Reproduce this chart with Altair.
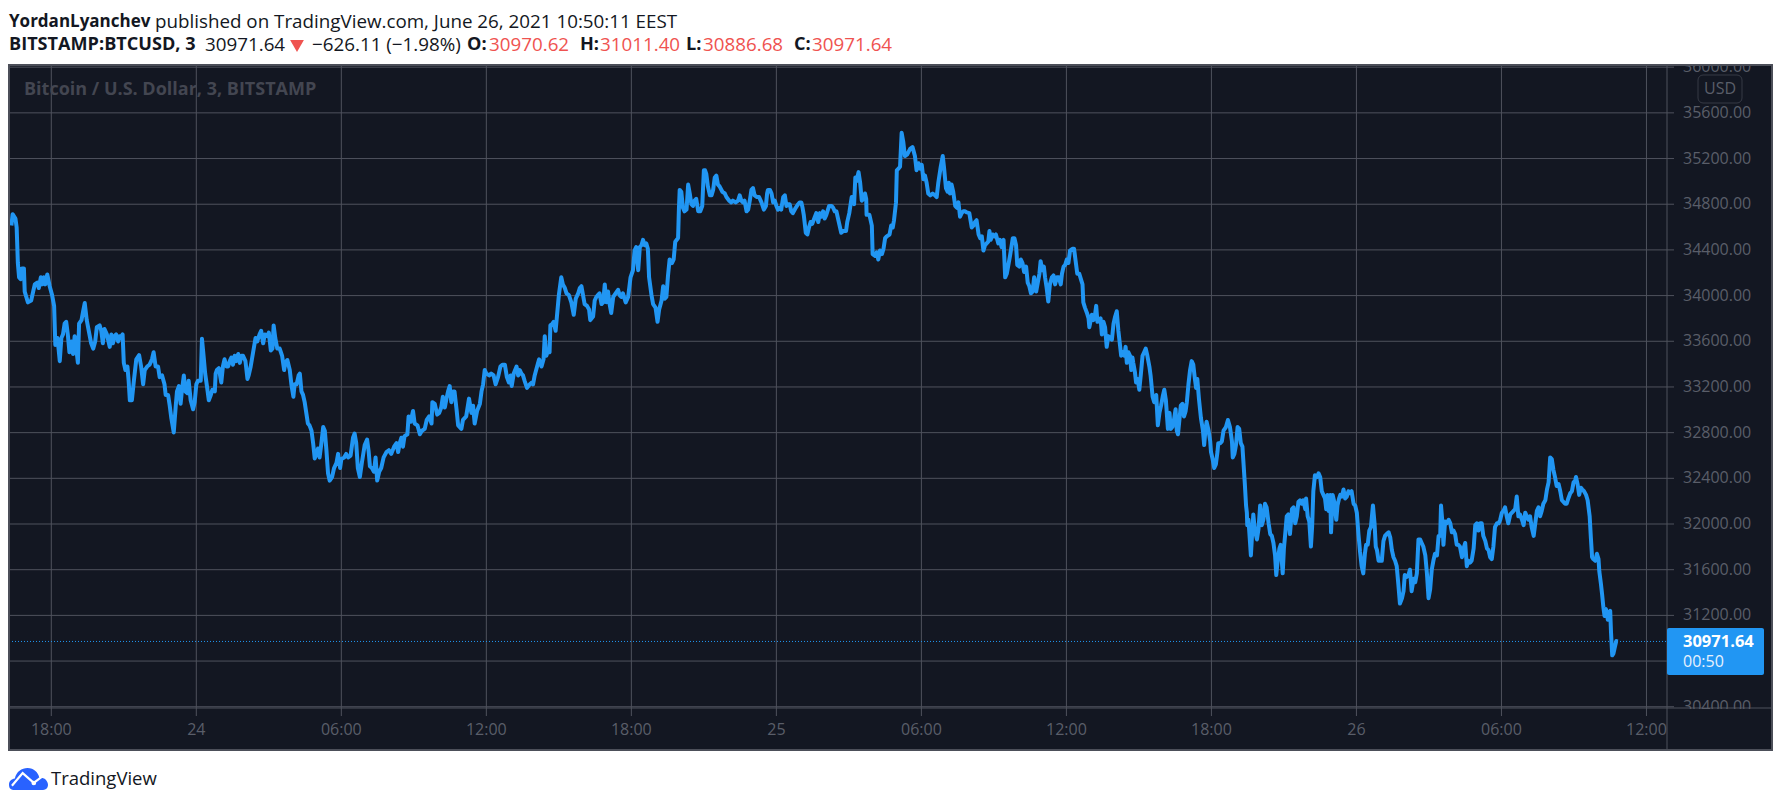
import altair as alt
import pandas as pd

# ---------------- data ----------------
# time = minutes since 2021-06-23 16:00 (chart time zone), price = BTCUSD 3-min close
T_A = [21,24,31,34,37,40,44,47,52,54,62,70,79,85,89,94,97,102,105,110,
       116,122,127,130,135,138,141,145,149,153,157,161,165,170,174,178,182,186,189,195,
       199,203,208,213,219,224,229,233,240,244,248,252,258,265,269,273,277,281,286,290,
       294,297,300,304,309,312,315,320,325,331,338,343,348,352,358,364,370,374,379,385,
       389,395,401,404,410,414,418,424,429,432,437,441,444,449,453,458,461,466,472,476,
       480,484,491,494,498,502,507,511,516,520,526,528,531,536,542,546,550,555,559,563,
       567,571,575,579,584,588,592,596,602,607,610,615,621,627,631,637,641,646,650,656,
       660,665,669,672,676,681,687,693,698,701,706,712,716,721,724,729,734,737,741,745,
       749,753,757,761,766,770,774,778,782,786,790,795,799,803,807,811,817,822,828,832,
       837,840,847,852,857,863,869,873,877,881,886,891,898,904,908,911,916,921,925,929,
       934,939,945,952,958,964,971,977,981,985,989,993,997,1004,1007,1012,1018,1022,1029,1035,
       1040,1047,1052]
P_A = [34613,34713,34675,34597,34285,34160,34144,34238,34238,34035,
       33941,33957,34098,34113,34066,34160,34098,34160,34098,34185,
       34082,34004,33910,33567,33629,33536,33426,33629,33660,33754,
       33770,33660,33504,33598,33489,33645,33536,33411,33754,33785,
       33863,33935,33785,33692,33582,33536,33598,33723,33739,33692,
       33582,33707,33660,33551,33660,33582,33645,33660,33598,33645,
       33645,33660,33411,33348,33379,33254,33083,33083,33254,33442,
       33479,33379,33223,33348,33379,33395,33442,33504,33379,33379,
       33286,33301,33223,33130,33130,33036,32927,32802,33036,33161,
       33208,33052,33161,33301,33161,33145,33254,33083,33005,33067,
       33223,33254,33254,33623,33473,33317,33192,33083,33130,33176,
       33161,33317,33348,33364,33239,33379,33442,33379,33379,33426,
       33457,33395,33473,33426,33489,33411,33473,33473,33426,33270,
       33301,33379,33504,33629,33598,33660,33692,33582,33660,33645,
       33676,33520,33536,33739,33629,33536,33536,33473,33348,33411,
       33436,33348,33223,33114,33223,33223,33301,33317,33161,33130,
       33067,32973,32880,32864,32817,32708,32574,32614,32661,32583,
       32692,32849,32817,32646,32443,32380,32411,32490,32536,32614,
       32490,32568,32583,32614,32583,32599,32755,32792,32708,32490,
       32411,32536,32692,32739,32630,32505,32490,32458,32583,32380,
       32458,32490,32583,32630,32646,32614,32677,32708,32630,32708,
       32755,32677,32770,32786,32942,32895,32989,32880,32864,32786,
       32817,32833,32911]

T_B = [1058,1064,1066,1072,1078,1083,1088,1092,1097,1101,
       1105,1109,1113,1117,1121,1126,1130,1138,1142,1150,
       1157,1163,1167,1171,1177,1184,1188,1192,1196,1200,
       1207,1212,1218,1223,1229,1235,1240,1246,1251,1256,
       1260,1263,1268,1275,1279,1283,1287,1291,1295,1301,
       1308,1313,1316,1320,1326,1331,1337,1342,1345,1349,
       1353,1357,1359,1364,1367,1372,1376,1380,1386,1390,
       1395,1399,1405,1411,1417,1422,1428,1432,1436,1440,
       1444,1450,1455,1458,1465,1469,1473,1477,1481,1486,
       1490,1494,1498,1502,1506,1510,1515,1521,1527,1531,
       1535,1539,1546,1552,1558,1564,1568,1572,1577,1581,
       1585,1589,1593,1597,1601,1604,1610,1614,1620,1625,
       1629,1635,1639,1643,1647,1651,1655,1661,1665,1669,
       1676,1678,1680,1684,1688,1692,1697,1701,1705,1709,
       1713,1717,1721,1726,1731,1736,1740,1743,1746,1750,
       1755,1759,1763,1767,1771,1775,1779,1786,1792,1796,
       1803,1808,1812,1819,1825,1829,1833,1837,1841,1846,
       1850,1854,1858,1862,1866,1872,1877,1883,1889,1894,
       1897,1899,1904,1908,1912,1916,1920,1924,1928,1932,
       1937,1941,1945,1949,1953,1957,1961,1968,1974,1978,
       1982,1985,1988,1993,1997,2001,2005,2009,2014,2019,
       2024,2028,2032,2036,2040,2044,2051,2057,2061,2065,
       2069,2073]
P_B = [32942,32880,33067,33052,32958,32973,33020,33114,33020,33098,
       33161,33208,33067,33161,33161,33005,32864,32833,32911,32942,
       33098,32973,33036,32880,32989,33052,33161,33223,33348,33317,
       33301,33317,33301,33223,33286,33379,33395,33395,33286,33239,
       33301,33208,33317,33379,33301,33348,33317,33301,33254,33192,
       33223,33239,33223,33301,33379,33442,33379,33442,33645,33473,
       33520,33504,33739,33754,33770,33692,33848,34004,34160,34098,
       34066,34020,34004,33941,33832,33973,34020,34066,34082,34004,
       33926,33910,33879,33785,33817,33957,33988,34004,34020,33926,
       33941,34098,33941,34035,33926,33848,33988,34020,34051,34004,
       33988,34020,33941,33988,34160,34222,34394,34425,34222,34425,
       34441,34488,34441,34457,34410,34160,34004,33926,33895,33770,
       33879,33957,34082,33973,33988,34176,34316,34285,34316,34472,
       34504,34753,34925,34909,34769,34738,34753,34972,34894,34800,
       34785,34831,34847,34738,34738,34785,35097,35097,35066,34956,
       34878,34878,34925,35034,35050,34972,34956,34909,34894,34863,
       34831,34816,34831,34816,34831,34878,34831,34816,34831,34738,
       34753,34831,34925,34941,34878,34863,34863,34816,34753,34785,
       34894,34925,34925,34894,34816,34831,34785,34753,34769,34753,
       34863,34878,34785,34800,34800,34738,34722,34769,34800,34816,
       34816,34769,34707,34550,34535,34597,34644,34628,34675,34722,
       34644,34722,34691,34738,34675,34707,34785,34785,34769,34738,
       34738,34675]

T_C = [2081,2086,2093,2096,2101,2107,2113,2116,2119,2124,
       2128,2132,2136,2140,2143,2144,2151,2157,2159,2165,
       2169,2173,2177,2182,2186,2190,2194,2201,2205,2209,
       2212,2217,2219,2223,2227,2231,2235,2239,2245,2252,
       2258,2264,2268,2273,2277,2281,2285,2289,2293,2297,
       2302,2308,2314,2318,2322,2328,2333,2336,2341,2345,
       2348,2351,2355,2359,2364,2368,2372,2376,2380,2384,
       2388,2393,2399,2405,2409,2413,2417,2422,2426,2430,
       2434,2438,2442,2446,2449,2452,2457,2461,2465,2471,
       2475,2479,2484,2488,2492,2496,2500,2507,2511,2515,
       2518,2523,2527,2531,2535,2540,2544,2548,2552,2556,
       2560,2565,2569,2573,2576,2580,2584,2587,2591,2595,
       2599,2604,2608,2612,2616,2621,2626,2629,2633,2637,
       2641,2645,2649,2655,2659,2663,2667,2672,2676,2680,
       2682,2686,2691,2695,2697,2703,2707,2711,2714,2717,
       2722,2725,2728,2732,2736,2740,2744,2748,2753,2757,
       2761,2765,2769,2773,2776,2780,2784,2787,2790,2794,
       2798,2801,2804,2806,2810,2813,2817,2821,2825,2829,
       2833,2837,2841,2846,2849,2854,2858,2863,2867,2871,
       2875,2879,2883,2887,2892,2896,2899,2903,2907,2911,
       2914,2917,2921,2924,2928,2932,2936,2939,2943,2947,
       2951,2955,2959,2962,2965,2969,2974,2979,2982,2985,
       2988,2993,2997,2999,3003,3007,3011,3015,3017,3022,
       3026,3030,3036,3041,3046,3051,3053,3057,3061,3065,
       3069,3073,3077,3079,3083,3086,3088,3089,3092]
P_C = [34550,34566,34566,34644,34722,34863,34800,35034,35003,35081,
       34988,34831,34847,34894,34847,34707,34707,34613,34363,34347,
       34379,34316,34394,34363,34410,34503,34519,34535,34613,34597,
       34660,34816,35097,35112,35128,35425,35347,35222,35237,35284,
       35300,35222,35097,35159,35112,35144,35019,35050,34988,34894,
       34878,34894,34878,34863,34988,35128,35222,35128,34941,34909,
       34988,34894,34972,34909,34785,34769,34816,34691,34722,34738,
       34738,34728,34722,34597,34613,34644,34660,34535,34503,34519,
       34394,34441,34457,34472,34566,34488,34535,34519,34535,34457,
       34488,34425,34488,34160,34191,34269,34347,34503,34503,34441,
       34269,34254,34316,34285,34207,34254,34113,34082,34020,34035,
       34160,34035,34113,34191,34301,34222,34254,34160,34066,33948,
       34098,34160,34176,34098,34160,34160,34098,34191,34254,34269,
       34316,34285,34394,34410,34410,34301,34191,34191,34144,34098,
       33941,33895,33848,33801,33723,33832,33785,33832,33910,33770,
       33785,33801,33660,33770,33723,33551,33645,33629,33614,33754,
       33817,33863,33692,33567,33473,33504,33473,33551,33411,33504,
       33473,33348,33457,33411,33333,33239,33270,33176,33317,33473,
       33504,33536,33473,33379,33301,33114,33067,33130,32864,32973,
       33036,33114,33176,33083,32833,32973,32833,32849,32911,33005,
       32817,32786,32927,33036,33052,32942,32989,33067,33223,33348,
       33426,33395,33270,33192,33270,33098,32927,32817,32692,32817,
       32895,32817,32724,32630,32568,32490,32521,32630,32708,32708,
       32724,32817,32849,32911,32849,32724,32583,32614,32692,32849,
       32833,32708,32677,32568,32349,32162,32099,31990,32037]

T_D = [3098,3101,3104,3108,3113,3117,3121,3125,3129,3133,
       3137,3142,3146,3150,3154,3158,3161,3165,3169,3172,
       3175,3177,3180,3184,3187,3191,3195,3200,3204,3208,
       3212,3216,3220,3224,3228,3233,3235,3239,3243,3247,
       3250,3253,3257,3262,3266,3270,3274,3278,3282,3285,
       3288,3291,3295,3297,3301,3305,3310,3313,3317,3320,
       3324,3328,3332,3336,3340,3344,3348,3353,3357,3361,
       3365,3369,3373,3377,3381,3384,3388,3392,3396,3401,
       3405,3408,3411,3415,3419,3423,3427,3431,3435,3440,
       3444,3448,3452,3456,3460,3464,3468,3473,3477,3480,
       3485,3489,3493,3497,3502,3506,3510,3514,3518,3522,
       3526,3531,3535,3539,3543,3547,3551,3555,3560,3564,
       3568,3570,3574,3576,3580,3584,3589,3593,3597,3601,
       3605,3609,3613,3617,3622,3626,3630,3634,3638,3642,
       3646,3651,3655,3659,3663,3667,3671,3675,3680,3684,
       3688,3692,3696,3700,3704,3709,3713,3717,3721,3725,
       3729,3733,3737,3742,3746,3750,3754,3758,3762,3766,
       3771,3775,3779,3783,3787,3791,3795,3800,3804,3808,
       3812,3816,3820,3824,3829,3833,3837,3841,3845,3849,
       3853,3857,3862,3866,3870,3874,3878,3882,3886,3891,
       3895,3899,3903,3905,3909,3913,3917,3921,3925,3930,
       3934,3939,3942,3945,3948,3953,3957,3961,3963,3967,
       3970,3973,3976,3979,3982,3984,3987,3990,3992,3995,
       3998,4001,4005,4009]
P_D = [31725,31912,32084,31943,31865,31959,32162,31990,32037,32177,
       32146,32006,31912,31896,31834,31725,31553,31693,31787,31818,
       31662,31568,31787,31943,32068,32084,31912,32130,32146,32006,
       32068,32193,32208,32177,32208,32130,32224,32068,32021,31803,
       31974,32287,32427,32411,32443,32411,32287,32255,32224,32130,
       32255,32115,32255,31927,32255,32193,32037,32162,32224,32255,
       32240,32302,32224,32240,32287,32271,32287,32177,32162,32099,
       31912,31756,31631,31568,31740,31818,31818,31943,31974,32162,
       32006,31803,31771,31678,31678,31678,31850,31896,31912,31927,
       31881,31771,31709,31678,31631,31475,31303,31350,31412,31553,
       31537,31553,31600,31412,31521,31490,31568,31865,31865,31834,
       31803,31725,31568,31350,31428,31600,31678,31740,31725,31896,
       31896,32162,31990,31818,32021,32006,32037,32006,31927,31943,
       31912,31818,31818,31803,31709,31787,31834,31631,31678,31662,
       31678,31787,31990,32006,31943,32006,32006,31896,31850,31787,
       31771,31709,31693,31803,31974,32006,32006,32037,32099,32115,
       32146,32068,32006,32084,32099,32115,32130,32240,32068,32084,
       32037,31990,32099,32068,32037,32068,31974,31896,32006,32115,
       32146,32068,32115,32177,32208,32302,32365,32583,32568,32474,
       32411,32333,32349,32287,32208,32193,32177,32177,32224,32271,
       32287,32365,32380,32411,32349,32255,32318,32302,32287,32255,
       32208,32068,31881,31709,31693,31678,31740,31693,31584,31475,
       31381,31272,31194,31256,31225,31162,31225,31240,31053,30850,
       30866,30913,30975,30971.64]

LAST_PRICE = 30971.64

X_TICKS = [120, 480, 840, 1200, 1560, 1920, 2280, 2640, 3000, 3360, 3720, 4080]
X_LABELS = ["18:00", "24", "06:00", "12:00", "18:00", "25",
            "06:00", "12:00", "18:00", "26", "06:00", "12:00"]
Y_TICKS = [30400, 30800, 31200, 31600, 32000, 32400, 32800, 33200,
           33600, 34000, 34400, 34800, 35200, 35600, 36000]
Y_LABELS = ["30400.00", "30800.00", "31200.00", "31600.00", "32000.00",
            "32400.00", "32800.00", "33200.00", "33600.00", "34000.00",
            "34400.00", "34800.00", "35200.00", "35600.00", "36000.00"]

# ---------------- styling ----------------
PANEL = "#131722"
GRID = "#4f525d"
BORDER = "#4c4f59"
LABEL = "#5a5e69"
BLUE = "#2196f3"
RED = "#ef5350"
INK = "#131722"
FONT = "Open Sans"
REG = 18.8    # header regular size
BLD = 18.1    # header bold size (line 2)

W, H = 1658, 643          # plot area
PW, PH = 1763, 685        # whole dark panel

XS = alt.Scale(domain=[15, 4131], nice=False, zero=False)
YS = alt.Scale(domain=[30389, 36019], nice=False, zero=False)

series = pd.DataFrame({"t": T_A + T_B + T_C + T_D, "price": P_A + P_B + P_C + P_D})
xt = pd.DataFrame({"t": X_TICKS, "label": X_LABELS})
yt = pd.DataFrame({"price": Y_TICKS, "label": Y_LABELS})
last = pd.DataFrame({"price": [LAST_PRICE]})
ONE = pd.DataFrame({"k": [0]})


def rect(x1, x2, y1, y2, **kw):
    return alt.Chart(ONE).mark_rect(**kw).encode(
        x=alt.value(x1), x2=alt.value(x2), y=alt.value(y1), y2=alt.value(y2))


def rule(x1, x2, y1, y2, **kw):
    return alt.Chart(ONE).mark_rule(**kw).encode(
        x=alt.value(x1), x2=alt.value(x2), y=alt.value(y1), y2=alt.value(y2))


def txt(s, x, y, size=17, weight="normal", color=INK, align="left"):
    return alt.Chart(ONE).mark_text(
        text=s, align=align, baseline="middle", font=FONT,
        fontSize=size, fontWeight=weight, color=color
    ).encode(x=alt.value(x), y=alt.value(y))


layers = []
# dark panel
layers.append(rect(0, PW, 0, PH, fill=PANEL))

# grid (with tick stubs)
layers.append(alt.Chart(xt).mark_rule(color=GRID, strokeWidth=1).encode(
    x=alt.X("t:Q", scale=XS, axis=None), y=alt.value(0), y2=alt.value(H + 8)))
layers.append(alt.Chart(yt).mark_rule(color=GRID, strokeWidth=1).encode(
    y=alt.Y("price:Q", scale=YS, axis=None), x=alt.value(0), x2=alt.value(W + 7)))

# last price dotted line
layers.append(alt.Chart(last).mark_rule(color=BLUE, strokeWidth=1, strokeDash=[1, 2]).encode(
    y=alt.Y("price:Q", scale=YS, axis=None), x=alt.value(0), x2=alt.value(W)))

# price line
layers.append(alt.Chart(series).mark_line(color=BLUE, strokeWidth=4, strokeJoin="round").encode(
    x=alt.X("t:Q", scale=XS, axis=None),
    y=alt.Y("price:Q", scale=YS, axis=None)))

# axis separators
layers.append(rule(W, W, 0, PH, color=GRID, strokeWidth=1))
layers.append(rule(0, PW, H, H, color=GRID, strokeWidth=1))

# axis labels (the one under the last-price tag is hidden, as in TradingView)
layers.append(alt.Chart(yt).mark_text(align="left", baseline="middle", font=FONT,
                                      fontSize=16, color=LABEL).encode(
    y=alt.Y("price:Q", scale=YS, axis=None), x=alt.value(W + 16), text="label:N"
).transform_filter("datum.price != 30800"))
layers.append(alt.Chart(xt).mark_text(align="center", baseline="middle", font=FONT,
                                      fontSize=16, color=LABEL).encode(
    x=alt.X("t:Q", scale=XS, axis=None), y=alt.value(665), text="label:N"))

# clip the overflowing top / bottom price labels
layers.append(rect(W - 8, PW + 4, -16, 0, fill="white"))
layers.append(rect(W + 1, PW - 1, H + 1, PH - 1, fill=PANEL))

# currency box
layers.append(rect(1689, 1733, 10, 38, fill=PANEL, stroke="#363a45", strokeWidth=1, cornerRadius=5))
layers.append(txt("USD", 1711, 24, size=16, color=LABEL, align="center"))

# last price tag
layers.append(rect(W, 1755, 563, 610, fill=BLUE, cornerRadius=2))
layers.append(txt("30971.64", W + 16, 577, size=16.5, weight="bold", color="white"))
layers.append(txt("00:50", W + 16, 597, size=16, color="#e8f1fd"))

# panel border
layers.append(rect(0, PW, 0, PH, fill=PANEL, fillOpacity=0, stroke=BORDER, strokeWidth=2))

# series title inside panel
layers.append(txt("Bitcoin / U.S. Dollar, 3, BITSTAMP", 15, 25, size=18, weight="bold", color="#434651"))

# header line 1
layers.append(txt("YordanLyanchev", 0, -43, size=17, weight="bold"))
layers.append(txt("published on TradingView.com, June 26, 2021 10:50:11 EEST", 146, -43, size=REG))

# header line 2
layers.append(txt("BITSTAMP:BTCUSD, 3", 0, -20, size=BLD, weight="bold"))
layers.append(txt("30971.64", 196, -20, size=REG))
layers.append(alt.Chart(ONE).mark_point(shape="triangle-down", filled=True, color=RED, size=190, opacity=1).encode(
    x=alt.value(288), y=alt.value(-19)))
layers.append(txt("\u2212626.11 (\u22121.98%)", 303, -20, size=REG))
layers.append(txt("O:", 458, -20, size=BLD, weight="bold"))
layers.append(txt("30970.62", 480, -20, size=REG, color=RED))
layers.append(txt("H:", 571, -20, size=BLD, weight="bold"))
layers.append(txt("31011.40", 591, -20, size=REG, color=RED))
layers.append(txt("L:", 677, -20, size=BLD, weight="bold"))
layers.append(txt("30886.68", 694, -20, size=REG, color=RED))
layers.append(txt("C:", 785, -20, size=BLD, weight="bold"))
layers.append(txt("30971.64", 803, -20, size=REG, color=RED))

# TradingView logo
CLOUD = ("M -0.78 0.56 C -0.95 0.56 -1 0.42 -1 0.3 C -1 0.12 -0.88 0.0 -0.7 -0.02 "
         "C -0.62 -0.38 -0.35 -0.56 -0.05 -0.56 C 0.28 -0.56 0.5 -0.32 0.55 -0.08 "
         "C 0.82 -0.1 1 0.1 1 0.3 C 1 0.45 0.9 0.56 0.75 0.56 Z")
ZIG = "M -0.85 0.35 L -0.3 -0.3 L 0.27 0.2 L 0.8 -0.2"
layers.append(alt.Chart(ONE).mark_point(shape=CLOUD, filled=True, color="#2962ff", size=1521, opacity=1).encode(
    x=alt.value(19.5), y=alt.value(714)))
layers.append(alt.Chart(ONE).mark_point(shape=ZIG, filled=False, color="white", size=1521, strokeWidth=2.2, opacity=1).encode(
    x=alt.value(19.5), y=alt.value(714)))
layers.append(alt.Chart(ONE).mark_point(shape="circle", filled=True, color="white", size=22, opacity=1).encode(
    x=alt.value(24.8), y=alt.value(718)))
layers.append(txt("TradingView", 42, 714, size=18.5))

chart = alt.layer(*layers).properties(
    width=W, height=H,
    autosize=alt.AutoSizeParams(type="none"),
    padding={"left": 1, "top": 57, "right": 108, "bottom": 90},
).configure_view(stroke=None).configure(background="white")

chart.save("out.html", embed_options={"renderer": "svg", "actions": False})
